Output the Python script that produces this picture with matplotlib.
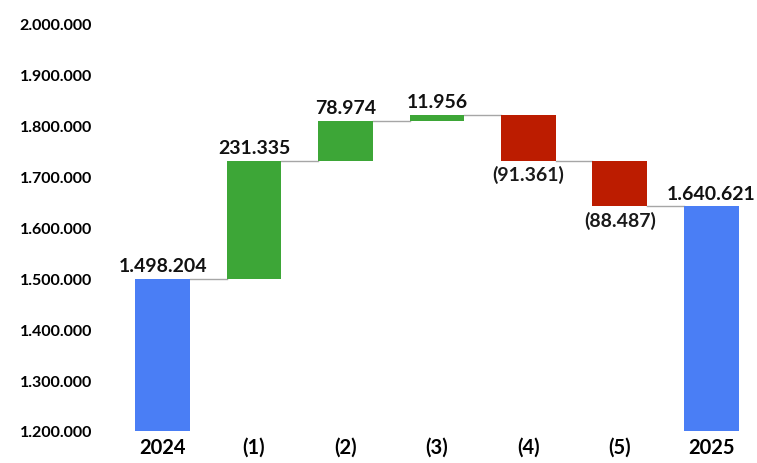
import numpy as np
import matplotlib.pyplot as plt
from matplotlib.ticker import FuncFormatter

# data
categories = ['2024', '(1)', '(2)', '(3)', '(4)', '(5)', '2025']
start_value = 1498204
changes = [231335, 78974, 11956, -91361, -88487]
end_value = 1640621

plt.rcParams['font.family'] = ['Lato', 'DejaVu Sans']


def fmt(v):
    s = f'{abs(int(round(v))):,}'.replace(',', '.')
    return f'({s})' if v < 0 else s


# build waterfall levels
levels = np.cumsum([start_value] + changes)
bottoms = [0]
heights = [start_value]
colors = ['#4A7EF5']
for i, c in enumerate(changes):
    bottoms.append(min(levels[i], levels[i + 1]))
    heights.append(abs(c))
    colors.append('#3DA637' if c > 0 else '#BC1C00')
bottoms.append(0)
heights.append(end_value)
colors.append('#4A7EF5')

fig = plt.figure(figsize=(7.57, 4.64), dpi=100)
ax = fig.add_axes([0.158, 0.069, 0.83, 0.879])

x = np.arange(len(categories))
bar_width = 0.6
ax.bar(x, heights, bar_width, bottom=bottoms, color=colors, zorder=2)

# connector lines
tops = [start_value] + list(levels[1:]) + [end_value]
for i in range(len(categories) - 1):
    ax.plot([x[i] + bar_width / 2, x[i + 1] - bar_width / 2],
            [tops[i], tops[i]], color='#A6A6A6', lw=1, zorder=1)

# value labels
values = [start_value] + changes + [end_value]
for i, v in enumerate(values):
    top = bottoms[i] + heights[i]
    if v < 0:
        ax.text(x[i], bottoms[i] - 8000, fmt(v), ha='center', va='top',
                fontsize=14, fontweight='bold', color='#1a1a1a')
    else:
        ax.text(x[i], top + 9000, fmt(v), ha='center', va='bottom',
                fontsize=14, fontweight='bold', color='#111111')

ax.set_ylim(1200000, 2000000)
ax.set_xlim(-0.47, 6.4)
ax.set_yticks(np.arange(1200000, 2000001, 100000))
ax.yaxis.set_major_formatter(FuncFormatter(lambda v, p: fmt(v)))
ax.set_xticks(x)
ax.set_xticklabels(categories)
for lab in ax.get_yticklabels():
    lab.set_fontweight('bold')
    lab.set_fontsize(11.5)
for lab in ax.get_xticklabels():
    lab.set_fontweight('bold')
    lab.set_fontsize(14.5)
ax.tick_params(axis='y', length=0, pad=20)
ax.tick_params(axis='x', length=0, pad=4)
for s in ax.spines.values():
    s.set_visible(False)

fig.savefig('out.png', dpi=100)
